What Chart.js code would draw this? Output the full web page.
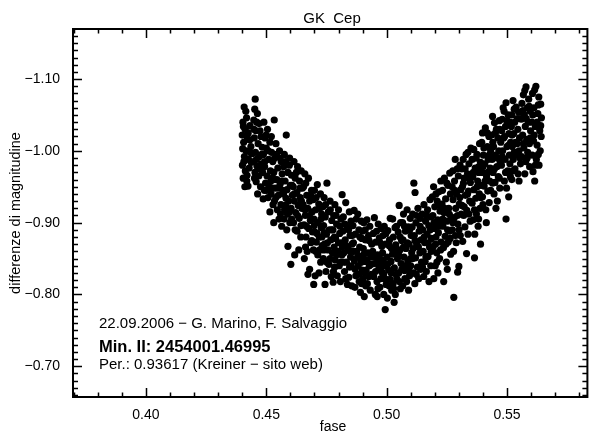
<!DOCTYPE html>
<html>
<head>
<meta charset="utf-8">
<script src="https://cdn.jsdelivr.net/npm/chart.js@4.4.0/dist/chart.umd.min.js"></script>
<style>
  html, body { margin: 0; padding: 0; background: #fff; }
  canvas { display: block; }
</style>
</head>
<body>
<canvas id="curva" width="591" height="435"></canvas>
<script>
// [fase, differenza di magnitudine]
var ramoDiscesa = [
  [0.4408,-1.061],[0.4403,-1.040],[0.4418,-1.046],[0.4412,-1.030],[0.4400,-1.022],[0.4425,-1.025],[0.4406,-1.012],[0.4431,-1.015],[0.4402,-1.003],[0.4416,-1.000],[0.4436,-1.006],[0.4409,-0.992],[0.4426,-0.988],[0.4401,-0.980],[0.4440,-0.996],[0.4413,-0.972],[0.4429,-0.976],[0.4404,-0.962],[0.4420,-0.966],[0.4411,-0.950],[0.4424,-0.951],[0.4437,-0.984],
  [0.4454,-1.072],[0.4452,-1.058],[0.4463,-1.052],[0.4448,-1.043],[0.4470,-1.038],[0.4457,-1.028],[0.4478,-1.020],[0.4450,-1.018],[0.4466,-1.010],[0.4483,-1.005],[0.4455,-0.998],[0.4472,-0.992],[0.4447,-0.985],[0.4461,-0.979],[0.4480,-0.982],[0.4453,-0.970],[0.4469,-0.965],[0.4485,-0.970],[0.4458,-0.957],[0.4476,-0.950],[0.4464,-0.940],[0.4487,-0.933],
  [0.4490,-1.040],[0.4505,-1.030],[0.4495,-1.018],[0.4515,-1.012],[0.4500,-1.004],[0.4522,-0.998],[0.4488,-0.995],[0.4510,-0.988],[0.4527,-0.985],[0.4493,-0.978],[0.4517,-0.972],[0.4503,-0.965],[0.4525,-0.962],[0.4497,-0.955],[0.4512,-0.950],[0.4520,-0.940],[0.4507,-0.935],[0.4492,-0.945],[0.4528,-0.925],[0.4515,-0.915],
  [0.4533,-1.043],[0.4540,-1.010],[0.4555,-1.000],[0.4535,-0.990],[0.4562,-0.985],[0.4548,-0.976],[0.4531,-0.970],[0.4566,-0.968],[0.4544,-0.960],[0.4557,-0.953],[0.4538,-0.948],[0.4568,-0.945],[0.4550,-0.938],[0.4534,-0.930],[0.4561,-0.925],[0.4546,-0.918],[0.4553,-0.905],[0.4531,-0.900],[0.4564,-0.895],
  [0.4583,-1.022],[0.4575,-0.995],[0.4597,-0.990],[0.4572,-0.978],[0.4590,-0.970],[0.4605,-0.966],[0.4578,-0.958],[0.4600,-0.952],[0.4586,-0.946],[0.4572,-0.940],[0.4608,-0.938],[0.4593,-0.930],[0.4580,-0.924],[0.4603,-0.920],[0.4588,-0.912],[0.4574,-0.905],[0.4598,-0.900],[0.4585,-0.890],[0.4590,-0.867],[0.4602,-0.842],
  [0.4615,-0.985],[0.4630,-0.978],[0.4645,-0.972],[0.4620,-0.962],[0.4638,-0.958],[0.4612,-0.950],[0.4650,-0.948],[0.4627,-0.942],[0.4641,-0.935],[0.4617,-0.930],[0.4633,-0.924],[0.4648,-0.920],[0.4622,-0.914],[0.4637,-0.906],[0.4613,-0.900],[0.4644,-0.896],[0.4628,-0.888],[0.4635,-0.862],[0.4618,-0.855],
  [0.4660,-0.968],[0.4675,-0.962],[0.4655,-0.950],[0.4688,-0.945],[0.4668,-0.938],[0.4680,-0.930],[0.4653,-0.925],[0.4672,-0.920],[0.4690,-0.915],[0.4662,-0.910],[0.4683,-0.903],[0.4657,-0.897],[0.4676,-0.892],[0.4692,-0.887],[0.4665,-0.880],[0.4685,-0.872],[0.4670,-0.860],[0.4658,-0.850],[0.4680,-0.835],[0.4673,-0.828],
  [0.4712,-0.953],[0.4700,-0.945],[0.4725,-0.940],[0.4695,-0.932],[0.4718,-0.926],[0.4705,-0.918],[0.4730,-0.912],[0.4698,-0.905],[0.4715,-0.900],[0.4728,-0.893],[0.4702,-0.887],[0.4720,-0.880],[0.4708,-0.873],[0.4732,-0.868],[0.4696,-0.862],[0.4714,-0.855],[0.4726,-0.845],[0.4703,-0.826],[0.4719,-0.830],[0.4697,-0.814],
  [0.4752,-0.955],[0.4740,-0.935],[0.4765,-0.930],[0.4735,-0.922],[0.4758,-0.915],[0.4745,-0.908],[0.4772,-0.903],[0.4738,-0.896],[0.4762,-0.890],[0.4750,-0.884],[0.4768,-0.876],[0.4742,-0.870],[0.4757,-0.862],[0.4775,-0.858],[0.4737,-0.850],[0.4760,-0.842],[0.4748,-0.832],[0.4770,-0.825],[0.4744,-0.814],
  [0.4815,-0.939],[0.4785,-0.925],[0.4800,-0.918],[0.4780,-0.910],[0.4810,-0.905],[0.4792,-0.898],[0.4777,-0.890],[0.4805,-0.885],[0.4788,-0.878],[0.4812,-0.872],[0.4782,-0.866],[0.4798,-0.860],[0.4814,-0.855],[0.4786,-0.848],[0.4803,-0.840],[0.4779,-0.832],[0.4795,-0.826],[0.4808,-0.818],[0.4778,-0.817]
];

var fondoMinimo = [
  [0.4830,-0.928],[0.4845,-0.915],[0.4820,-0.908],[0.4852,-0.902],[0.4835,-0.895],[0.4818,-0.888],[0.4848,-0.882],[0.4828,-0.876],[0.4856,-0.870],[0.4840,-0.864],[0.4822,-0.858],[0.4850,-0.852],[0.4833,-0.845],[0.4846,-0.838],[0.4825,-0.832],[0.4843,-0.824],[0.4837,-0.814],[0.4855,-0.812],
  [0.4865,-0.917],[0.4880,-0.912],[0.4895,-0.902],[0.4860,-0.896],[0.4885,-0.890],[0.4870,-0.884],[0.4897,-0.878],[0.4862,-0.872],[0.4888,-0.866],[0.4875,-0.860],[0.4892,-0.853],[0.4866,-0.847],[0.4882,-0.840],[0.4898,-0.834],[0.4872,-0.826],[0.4886,-0.818],[0.4868,-0.810],[0.4891,-0.803],
  [0.4918,-0.904],[0.4905,-0.900],[0.4930,-0.895],[0.4900,-0.888],[0.4925,-0.882],[0.4912,-0.876],[0.4938,-0.870],[0.4903,-0.864],[0.4922,-0.858],[0.4934,-0.852],[0.4908,-0.846],[0.4928,-0.840],[0.4915,-0.834],[0.4937,-0.828],[0.4902,-0.822],[0.4920,-0.815],[0.4932,-0.806],[0.4907,-0.797],
  [0.4949,-0.907],[0.4965,-0.898],[0.4978,-0.892],[0.4945,-0.885],[0.4970,-0.879],[0.4955,-0.873],[0.4980,-0.867],[0.4942,-0.860],[0.4962,-0.855],[0.4975,-0.849],[0.4950,-0.843],[0.4968,-0.837],[0.4981,-0.831],[0.4946,-0.825],[0.4960,-0.818],[0.4972,-0.810],[0.4953,-0.800],[0.4961,-0.797],
  [0.5015,-0.906],[0.4990,-0.895],[0.5005,-0.889],[0.4985,-0.882],[0.5012,-0.876],[0.4995,-0.870],[0.5020,-0.864],[0.4983,-0.858],[0.5002,-0.852],[0.5018,-0.846],[0.4992,-0.840],[0.5008,-0.834],[0.4987,-0.828],[0.5014,-0.821],[0.4998,-0.814],[0.5021,-0.806],[0.4988,-0.800],[0.4994,-0.779],
  [0.5031,-0.789],[0.5052,-0.924],[0.5025,-0.905],[0.5058,-0.900],[0.5035,-0.893],[0.5048,-0.887],[0.5028,-0.880],[0.5062,-0.875],[0.5038,-0.869],[0.5055,-0.862],[0.5024,-0.856],[0.5045,-0.850],[0.5060,-0.843],[0.5032,-0.837],[0.5050,-0.830],[0.5042,-0.822],[0.5027,-0.815],[0.5057,-0.808],[0.5036,-0.800],
  [0.5085,-0.918],[0.5070,-0.912],[0.5098,-0.906],[0.5066,-0.900],[0.5090,-0.894],[0.5078,-0.888],[0.5102,-0.882],[0.5068,-0.876],[0.5093,-0.870],[0.5080,-0.864],[0.5104,-0.858],[0.5072,-0.852],[0.5088,-0.846],[0.5100,-0.840],[0.5075,-0.833],[0.5095,-0.826],[0.5083,-0.818],[0.5067,-0.812],[0.5091,-0.806],
  [0.5113,-0.955],[0.5118,-0.942],[0.5130,-0.920],[0.5108,-0.912],[0.5140,-0.906],[0.5122,-0.900],[0.5106,-0.894],[0.5135,-0.888],[0.5115,-0.882],[0.5143,-0.876],[0.5125,-0.870],[0.5110,-0.864],[0.5138,-0.858],[0.5120,-0.851],[0.5145,-0.845],[0.5128,-0.838],[0.5112,-0.830],[0.5133,-0.822],[0.5117,-0.815],
  [0.5180,-0.932],[0.5155,-0.925],[0.5170,-0.918],[0.5148,-0.912],[0.5184,-0.908],[0.5162,-0.902],[0.5175,-0.896],[0.5150,-0.890],[0.5168,-0.884],[0.5186,-0.878],[0.5158,-0.872],[0.5178,-0.866],[0.5152,-0.860],[0.5172,-0.853],[0.5160,-0.846],[0.5183,-0.840],[0.5165,-0.832],[0.5154,-0.825],[0.5176,-0.818],
  [0.5217,-0.943],[0.5195,-0.950],[0.5225,-0.958],[0.5190,-0.936],[0.5210,-0.930],[0.5200,-0.922],[0.5222,-0.916],[0.5192,-0.910],[0.5212,-0.904],[0.5228,-0.898],[0.5198,-0.892],[0.5215,-0.886],[0.5205,-0.880],[0.5226,-0.873],[0.5193,-0.866],[0.5208,-0.858],[0.5220,-0.850],[0.5202,-0.840],[0.5213,-0.830],[0.5196,-0.822]
];

var ramoSalita = [
  [0.5262,-0.969],[0.5240,-0.962],[0.5255,-0.952],[0.5232,-0.945],[0.5265,-0.940],[0.5245,-0.933],[0.5230,-0.926],[0.5258,-0.920],[0.5238,-0.914],[0.5268,-0.908],[0.5250,-0.902],[0.5234,-0.895],[0.5262,-0.888],[0.5243,-0.881],[0.5256,-0.873],[0.5236,-0.865],[0.5266,-0.856],[0.5248,-0.845],[0.5237,-0.818],[0.5252,-0.835],
  [0.5279,-0.796],[0.5300,-0.839],[0.5295,-0.831],[0.5285,-0.988],[0.5305,-0.980],[0.5275,-0.972],[0.5298,-0.965],[0.5282,-0.958],[0.5272,-0.950],[0.5308,-0.946],[0.5290,-0.940],[0.5276,-0.932],[0.5302,-0.926],[0.5287,-0.920],[0.5310,-0.912],[0.5280,-0.906],[0.5296,-0.898],[0.5273,-0.890],[0.5306,-0.882],[0.5289,-0.872],[0.5278,-0.860],
  [0.5350,-1.004],[0.5330,-0.995],[0.5318,-0.988],[0.5342,-0.982],[0.5312,-0.975],[0.5336,-0.968],[0.5322,-0.962],[0.5348,-0.956],[0.5315,-0.950],[0.5340,-0.944],[0.5327,-0.938],[0.5345,-0.930],[0.5313,-0.924],[0.5333,-0.917],[0.5320,-0.910],[0.5347,-0.902],[0.5325,-0.894],[0.5338,-0.884],[0.5316,-0.874],[0.5332,-0.857],
  [0.5386,-1.010],[0.5362,-1.002],[0.5375,-0.995],[0.5355,-0.988],[0.5390,-0.984],[0.5368,-0.976],[0.5382,-0.970],[0.5358,-0.964],[0.5378,-0.958],[0.5392,-0.952],[0.5363,-0.946],[0.5385,-0.940],[0.5370,-0.934],[0.5355,-0.927],[0.5388,-0.920],[0.5373,-0.912],[0.5360,-0.904],[0.5380,-0.895],[0.5366,-0.884],[0.5365,-0.851],[0.5390,-0.870],
  [0.5410,-1.032],[0.5398,-1.025],[0.5425,-1.020],[0.5395,-1.012],[0.5418,-1.006],[0.5432,-1.000],[0.5402,-0.994],[0.5422,-0.988],[0.5408,-0.982],[0.5430,-0.976],[0.5396,-0.970],[0.5415,-0.964],[0.5428,-0.958],[0.5405,-0.951],[0.5420,-0.944],[0.5398,-0.936],[0.5426,-0.928],[0.5412,-0.918],[0.5414,-0.900],[0.5400,-0.925],
  [0.5448,-1.039],[0.5456,-1.030],[0.5440,-1.048],[0.5468,-1.042],[0.5436,-1.022],[0.5462,-1.018],[0.5474,-1.012],[0.5444,-1.006],[0.5466,-1.000],[0.5452,-0.994],[0.5438,-0.988],[0.5472,-0.984],[0.5458,-0.978],[0.5442,-0.970],[0.5464,-0.964],[0.5450,-0.956],[0.5470,-0.948],[0.5446,-0.940],[0.5460,-0.930],[0.5454,-0.920],
  [0.5496,-1.067],[0.5488,-1.055],[0.5505,-1.050],[0.5480,-1.044],[0.5512,-1.040],[0.5494,-1.034],[0.5478,-1.028],[0.5508,-1.024],[0.5486,-1.018],[0.5515,-1.012],[0.5500,-1.006],[0.5482,-1.000],[0.5510,-0.994],[0.5492,-0.988],[0.5477,-0.980],[0.5503,-0.972],[0.5514,-0.964],[0.5489,-0.958],[0.5498,-0.948],[0.5507,-0.936],[0.5496,-0.905],
  [0.5538,-1.061],[0.5525,-1.070],[0.5548,-1.054],[0.5520,-1.050],[0.5555,-1.045],[0.5532,-1.040],[0.5518,-1.034],[0.5545,-1.030],[0.5528,-1.024],[0.5552,-1.018],[0.5535,-1.012],[0.5522,-1.006],[0.5550,-1.000],[0.5540,-0.994],[0.5526,-0.988],[0.5556,-0.982],[0.5533,-0.975],[0.5546,-0.968],[0.5550,-0.958],[0.5520,-0.960],
  [0.5579,-1.089],[0.5568,-1.078],[0.5590,-1.072],[0.5562,-1.066],[0.5585,-1.060],[0.5596,-1.055],[0.5572,-1.050],[0.5560,-1.044],[0.5588,-1.040],[0.5576,-1.034],[0.5598,-1.028],[0.5565,-1.022],[0.5582,-1.016],[0.5593,-1.010],[0.5570,-1.004],[0.5586,-0.998],[0.5561,-0.992],[0.5578,-0.985],[0.5594,-0.978],[0.5574,-0.968],
  [0.5620,-1.090],[0.5606,-1.080],[0.5632,-1.075],[0.5640,-1.065],[0.5612,-1.060],[0.5628,-1.052],[0.5643,-1.046],[0.5603,-1.040],[0.5618,-1.034],[0.5636,-1.028],[0.5642,-1.020],[0.5610,-1.014],[0.5625,-1.008],[0.5638,-1.000],[0.5605,-0.994],[0.5622,-0.988],[0.5633,-0.980],[0.5608,-0.971],[0.5615,-0.958]
];

// punti in piu' nelle zone dove la banda e' piu' fitta
var zoneFitte = [
  [0.4405,-1.034],[0.4421,-1.018],[0.4433,-0.998],[0.4407,-0.985],[0.4419,-0.958],[0.4432,-1.035],[0.4415,-1.055],
  [0.4460,-1.040],[0.4474,-1.028],[0.4449,-1.030],[0.4481,-0.995],[0.4459,-0.988],[0.4471,-0.975],[0.4451,-0.962],
  [0.4499,-1.022],[0.4521,-1.020],[0.4508,-1.000],[0.4494,-0.985],[0.4519,-0.958],[0.4501,-0.945],[0.4526,-0.948],
  [0.4542,-0.995],[0.4558,-0.990],[0.4536,-0.960],[0.4565,-0.958],[0.4551,-0.948],[0.4540,-0.935],[0.4559,-0.912],
  [0.4580,-0.985],[0.4596,-0.980],[0.4607,-0.952],[0.4582,-0.934],[0.4596,-0.915],[0.4576,-0.918],[0.4605,-0.905],
  [0.4625,-0.970],[0.4640,-0.948],[0.4616,-0.940],[0.4646,-0.930],[0.4630,-0.910],[0.4620,-0.890],[0.4643,-0.880],
  [0.4664,-0.955],[0.4684,-0.938],[0.4661,-0.918],[0.4679,-0.910],[0.4667,-0.895],[0.4689,-0.875],[0.4663,-0.866],
  [0.4707,-0.935],[0.4722,-0.920],[0.4699,-0.896],[0.4727,-0.905],[0.4711,-0.885],[0.4731,-0.880],[0.4706,-0.860],[0.4722,-0.862],
  [0.4746,-0.925],[0.4766,-0.918],[0.4741,-0.886],[0.4771,-0.890],[0.4754,-0.872],[0.4739,-0.862],[0.4765,-0.850],[0.4752,-0.845],
  [0.4790,-0.910],[0.4806,-0.895],[0.4783,-0.880],[0.4800,-0.872],[0.4816,-0.866],[0.4791,-0.855],[0.4809,-0.845],[0.4784,-0.838],
  [0.4826,-0.898],[0.4842,-0.890],[0.4857,-0.882],[0.4831,-0.868],[0.4848,-0.860],[0.4819,-0.845],[0.4853,-0.840],[0.4830,-0.822],
  [0.4874,-0.905],[0.4889,-0.880],[0.4863,-0.860],[0.4879,-0.852],[0.4894,-0.845],[0.4869,-0.835],[0.4884,-0.828],[0.4896,-0.815],
  [0.4911,-0.890],[0.4927,-0.875],[0.4904,-0.855],[0.4918,-0.848],[0.4936,-0.842],[0.4910,-0.830],[0.4926,-0.825],[0.4913,-0.812],
  [0.4958,-0.888],[0.4973,-0.872],[0.4947,-0.852],[0.4966,-0.846],[0.4979,-0.840],[0.4954,-0.832],[0.4976,-0.822],[0.4964,-0.808],
  [0.4997,-0.885],[0.5011,-0.868],[0.4986,-0.848],[0.5004,-0.842],[0.5019,-0.830],[0.4993,-0.822],[0.5010,-0.812],[0.5003,-0.795],
  [0.5041,-0.895],[0.5056,-0.880],[0.5030,-0.862],[0.5049,-0.856],[0.5063,-0.835],[0.5039,-0.828],[0.5053,-0.818],[0.5029,-0.808],
  [0.5074,-0.895],[0.5096,-0.890],[0.5086,-0.872],[0.5070,-0.866],[0.5099,-0.850],[0.5079,-0.840],[0.5092,-0.834],[0.5076,-0.822],
  [0.5124,-0.910],[0.5139,-0.895],[0.5118,-0.875],[0.5132,-0.866],[0.5108,-0.850],[0.5141,-0.835],[0.5123,-0.828],
  [0.5166,-0.910],[0.5181,-0.890],[0.5156,-0.880],[0.5173,-0.872],[0.5185,-0.860],[0.5163,-0.852],[0.5149,-0.838],
  [0.5205,-0.940],[0.5220,-0.925],[0.5197,-0.900],[0.5216,-0.895],[0.5203,-0.870],[0.5224,-0.862],[0.5209,-0.845],
  [0.5250,-0.955],[0.5241,-0.920],[0.5260,-0.912],[0.5233,-0.905],[0.5253,-0.890],[0.5246,-0.870],[0.5264,-0.878],
  [0.5293,-0.975],[0.5283,-0.945],[0.5304,-0.935],[0.5294,-0.910],[0.5275,-0.900],[0.5301,-0.890],[0.5286,-0.882],
  [0.5338,-0.998],[0.5326,-0.975],[0.5344,-0.962],[0.5319,-0.955],[0.5336,-0.940],[0.5322,-0.922],[0.5342,-0.912],
  [0.5372,-0.990],[0.5383,-0.978],[0.5360,-0.970],[0.5376,-0.950],[0.5391,-0.935],[0.5365,-0.918],[0.5382,-0.905],
  [0.5418,-1.025],[0.5404,-1.004],[0.5426,-0.994],[0.5400,-0.978],[0.5420,-0.970],[0.5409,-0.958],[0.5432,-0.945],
  [0.5452,-1.025],[0.5470,-1.030],[0.5441,-1.012],[0.5460,-0.990],[0.5448,-0.975],[0.5468,-0.962],[0.5440,-0.955],
  [0.5484,-1.060],[0.5500,-1.042],[0.5490,-1.020],[0.5507,-1.008],[0.5480,-0.992],[0.5512,-0.982],[0.5494,-0.970],
  [0.5530,-1.058],[0.5543,-1.045],[0.5521,-1.022],[0.5542,-1.010],[0.5530,-0.998],[0.5554,-0.990],[0.5524,-0.972],
  [0.5574,-1.084],[0.5592,-1.062],[0.5566,-1.056],[0.5580,-1.045],[0.5597,-1.018],[0.5568,-1.010],[0.5584,-0.990],
  [0.5615,-1.085],[0.5630,-1.064],[0.5607,-1.050],[0.5625,-1.040],[0.5640,-1.035],[0.5613,-1.022],[0.5630,-0.995],[0.5618,-0.980]
];

var xTicks = [0.40, 0.45, 0.50, 0.55];
var yTicks = [-1.10, -1.00, -0.90, -0.80, -0.70];

var titolo = 'GK  Cep';
var titoloX = 'fase';
var titoloY = 'differenze di magnitudine';
var nota1 = '22.09.2006 \u2212 G. Marino, F. Salvaggio';
var nota2 = 'Min. II: 2454001.46995';
var nota3 = 'Per.: 0.93617 (Kreiner \u2212 sito web)';

function meno(v) {
    return v.toFixed(2).replace('-', '\u2212');
}

// assi stile IDL: cornice e tacche verso l'interno su tutti i lati
var assiIDL = {
    id: 'assiIDL',
    afterDraw: function (chart) {
        var ctx = chart.ctx;
        var a = chart.chartArea;
        var sx = chart.scales.x, sy = chart.scales.y;
        ctx.save();
        ctx.strokeStyle = '#000';
        ctx.lineWidth = 2;
        ctx.strokeRect(a.left, a.top, a.right - a.left, a.bottom - a.top);
        ctx.lineWidth = 1.5;
        ctx.beginPath();
        var i, p, len;
        for (i = Math.ceil(sx.min * 100 - 1e-6); i <= Math.floor(sx.max * 100 + 1e-6); i++) {
            p = Math.round(sx.getPixelForValue(i / 100)) + 0.5;
            len = (i % 5 === 0) ? 9 : 4.5;
            ctx.moveTo(p, a.bottom); ctx.lineTo(p, a.bottom - len);
            ctx.moveTo(p, a.top); ctx.lineTo(p, a.top + len);
        }
        for (i = Math.ceil(sy.min * 100 - 1e-6); i <= Math.floor(sy.max * 100 + 1e-6); i++) {
            p = Math.round(sy.getPixelForValue(i / 100)) + 0.5;
            len = (i % 10 === 0) ? 9 : 5;
            ctx.moveTo(a.left, p); ctx.lineTo(a.left + len, p);
            ctx.moveTo(a.right, p); ctx.lineTo(a.right - len, p);
        }
        ctx.stroke();
        ctx.restore();
    }
};

var testiIDL = {
    id: 'testiIDL',
    afterDraw: function (chart) {
        var ctx = chart.ctx;
        var a = chart.chartArea;
        ctx.save();
        ctx.fillStyle = '#000';
        ctx.textBaseline = 'alphabetic';
        ctx.textAlign = 'center';
        ctx.font = '15px "Liberation Sans", Arial, sans-serif';
        ctx.fillText(titolo, 332, 23);
        ctx.font = '14px "Liberation Sans", Arial, sans-serif';
        ctx.fillText(titoloX, 333, 431);
        ctx.save();
        ctx.translate(20, (a.top + a.bottom) / 2);
        ctx.rotate(-Math.PI / 2);
        ctx.font = '14.5px "Liberation Sans", Arial, sans-serif';
        ctx.fillText(titoloY, 0, 0);
        ctx.restore();
        ctx.textAlign = 'left';
        ctx.font = '15px "Liberation Sans", Arial, sans-serif';
        ctx.fillText(nota1, 99, 328);
        ctx.font = 'bold 16.5px "Liberation Sans", Arial, sans-serif';
        ctx.fillText(nota2, 99, 352);
        ctx.font = '15px "Liberation Sans", Arial, sans-serif';
        ctx.fillText(nota3, 99, 369);
        ctx.restore();
    }
};

window.onload = function () {
    Chart.defaults.font.family = '"Liberation Sans", Arial, sans-serif';
    Chart.defaults.color = '#000';

    var punti = ramoDiscesa.concat(fondoMinimo, ramoSalita, zoneFitte).map(function (d) {
        return { x: d[0], y: d[1] };
    });

    var context = document.querySelector('#curva').getContext('2d');
    new Chart(context, {
        type: 'scatter',
        data: {
            datasets: [{
                data: punti,
                backgroundColor: '#000',
                borderWidth: 0,
                pointRadius: 3.6,
                pointHoverRadius: 3.6
            }]
        },
        options: {
            responsive: false,
            animation: false,
            devicePixelRatio: 1,
            layout: { padding: { top: 29, right: 0, left: 0, bottom: 0 } },
            plugins: {
                legend: { display: false },
                tooltip: { enabled: false }
            },
            scales: {
                x: {
                    type: 'linear',
                    min: 0.3697,
                    max: 0.5834,
                    grid: { display: false },
                    border: { display: false },
                    afterBuildTicks: function (scale) {
                        scale.ticks = xTicks.map(function (v) { return { value: v }; });
                    },
                    afterFit: function (scale) { scale.height = 38; },
                    ticks: {
                        padding: 2,
                        font: { size: 14 },
                        maxRotation: 0,
                        callback: function (v) { return meno(v); }
                    }
                },
                y: {
                    type: 'linear',
                    reverse: true,
                    min: -1.1697,
                    max: -0.6572,
                    grid: { display: false },
                    border: { display: false },
                    afterBuildTicks: function (scale) {
                        scale.ticks = yTicks.map(function (v) { return { value: v }; });
                    },
                    afterFit: function (scale) { scale.width = 73; },
                    ticks: {
                        padding: 5,
                        font: { size: 14 },
                        callback: function (v) { return meno(v); }
                    }
                }
            }
        },
        plugins: [assiIDL, testiIDL]
    });
};
</script>
</body>
</html>
